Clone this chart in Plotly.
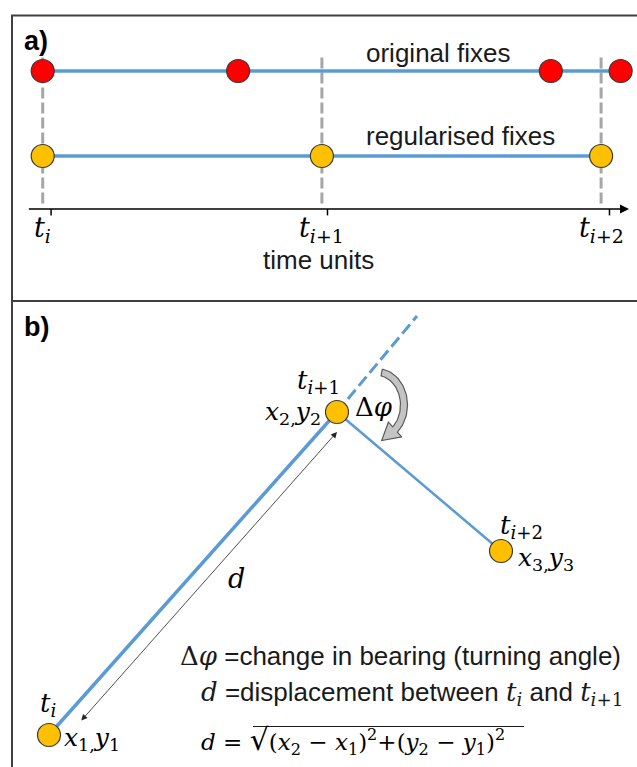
import numpy as np
import plotly.graph_objects as go

W, H = 637, 767

# ---------------- data ----------------
# panel a: fixes along the time axis (time units; t_i = 0)
original_fix_times = [0.0, 0.70, 1.82, 2.07]
regular_fix_times = [0, 1, 2]
tick_times = [0.03, 1.02, 2.03]
time_tick_labels = ["<i>t</i><sub><i>i</i></sub>",
                    "<i>t</i><sub><i>i</i>+1</sub>",
                    "<i>t</i><sub><i>i</i>+2</sub>"]
row_names = ["original fixes", "regularised fixes"]
row_levels = [1, 0]          # original row, regularised row
axis_level = -0.624

# panel b: three regularised steps (arbitrary map units)
step_x = [0.49, 3.37, 5.01]
step_y = [0.32, 3.55, 2.16]
step_coord_labels = ["<i>x</i><sub>1,</sub><i>y</i><sub>1</sub>",
                     "<i>x</i><sub>2,</sub><i>y</i><sub>2</sub>",
                     "<i>x</i><sub>3,</sub><i>y</i><sub>3</sub>"]
heading_x = [3.37, 4.17]     # extension of the previous bearing
heading_y = [3.55, 4.51]
d_arrow_x = [0.80, 3.37]
d_arrow_y = [0.45, 3.35]

BLUE = "#5B9BD5"
RED = "#FF0000"
YEL = "#FFC000"
EDGE = "#3A3A3A"
TXT = "#1a1a1a"
SANS = "Liberation Sans, Arial, sans-serif"
SERIF = "DejaVu Serif, Liberation Serif, serif"

def px(x):  # pixel -> paper x
    return x / W

def py(y):  # pixel -> paper y
    return 1 - y / H

fig = go.Figure()

# ---------- panel a ----------
fig.add_trace(go.Scatter(x=original_fix_times, y=[row_levels[0]] * len(original_fix_times),
                         mode="lines+markers", xaxis="x", yaxis="y",
                         line=dict(color=BLUE, width=3.5),
                         marker=dict(size=23, color=RED, line=dict(color=EDGE, width=1.2)),
                         showlegend=False, hoverinfo="skip"))
fig.add_trace(go.Scatter(x=regular_fix_times, y=[row_levels[1]] * len(regular_fix_times),
                         mode="lines+markers", xaxis="x", yaxis="y",
                         line=dict(color=BLUE, width=3.5),
                         marker=dict(size=23, color=YEL, line=dict(color=EDGE, width=1.2)),
                         showlegend=False, hoverinfo="skip"))

shapes = []
# outer frame + divider
shapes.append(dict(type="rect", xref="paper", yref="paper", x0=px(12), x1=px(660),
                   y0=py(790), y1=py(15.5), line=dict(color="#404040", width=2), layer="below"))
shapes.append(dict(type="line", xref="paper", yref="paper", x0=px(12), x1=1.05,
                   y0=py(301), y1=py(301), line=dict(color="#404040", width=2)))
for t in regular_fix_times:
    shapes.append(dict(type="line", xref="x", yref="y", x0=t, x1=t, y0=1.16, y1=axis_level + 0.03,
                       line=dict(color="#A6A6A6", width=3, dash="11px,4px"), layer="below"))
for t in tick_times:
    shapes.append(dict(type="line", xref="x", yref="y", x0=t, x1=t, y0=axis_level, y1=axis_level - 0.075,
                       line=dict(color="black", width=1.5)))

annotations = []
# time axis arrow
annotations.append(dict(x=2.10, y=axis_level, ax=-0.055, ay=axis_level, xref="x", yref="y",
                        axref="x", ayref="y", showarrow=True, arrowhead=2, arrowsize=1.2,
                        arrowwidth=1.5, arrowcolor="black", text=""))
for t, lab in zip(regular_fix_times, time_tick_labels):
    annotations.append(dict(x=t, y=-0.87, xref="x", yref="y", text=lab, showarrow=False,
                            font=dict(family=SERIF, size=27, color="black"),
                            xanchor="center", yanchor="middle"))
sans = lambda s, c=TXT: dict(family=SANS, size=s, color=c)
serif = lambda s: dict(family=SERIF, size=s, color="black")
annotations += [
    dict(x=px(319), y=py(260), text="time units", font=sans(26)),
    dict(x=px(364), y=py(53), text=row_names[0], xanchor="left", font=sans(26)),
    dict(x=px(364), y=py(136), text=row_names[1], xanchor="left", font=sans(26)),
    dict(x=px(22), y=py(41), text="<b>a)</b>", xanchor="left", font=sans(27, "black")),
]

# ---------- panel b ----------
fig.add_trace(go.Scatter(x=heading_x, y=heading_y, mode="lines", xaxis="x2", yaxis="y2",
                         line=dict(color=BLUE, width=3, dash="12px,5px"),
                         showlegend=False, hoverinfo="skip"))
fig.add_trace(go.Scatter(x=step_x[:2], y=step_y[:2], mode="lines", xaxis="x2", yaxis="y2",
                         line=dict(color=BLUE, width=3.5), showlegend=False, hoverinfo="skip"))
fig.add_trace(go.Scatter(x=step_x[1:], y=step_y[1:], mode="lines", xaxis="x2", yaxis="y2",
                         line=dict(color=BLUE, width=2.5), showlegend=False, hoverinfo="skip"))

# curved turning-angle arrow (pixel geometry converted to panel-b units)
cx, cy, rx, ry = 377, 405, 27, 33
th = np.radians(np.linspace(-80, 48, 40))
outer = [(cx + (rx + 3.5) * np.cos(a), cy + (ry + 3.5) * np.sin(a)) for a in th]
inner = [(cx + (rx - 3.5) * np.cos(a), cy + (ry - 3.5) * np.sin(a)) for a in th[::-1]]
a_end, a_tip = np.radians(48), np.radians(80)
head = [(cx + (rx + 10) * np.cos(a_end), cy + (ry + 10) * np.sin(a_end)),
        (cx + rx * np.cos(a_tip), cy + ry * np.sin(a_tip) + 3),
        (cx + (rx - 10) * np.cos(a_end), cy + (ry - 10) * np.sin(a_end))]
poly = outer + head + inner + [outer[0]]
fig.add_trace(go.Scatter(x=[p[0] / 100 for p in poly], y=[(H - p[1]) / 100 for p in poly],
                         mode="lines", fill="toself", fillcolor="#C4C4C4",
                         line=dict(color="#5a5a5a", width=1.2), xaxis="x2", yaxis="y2",
                         showlegend=False, hoverinfo="skip"))

fig.add_trace(go.Scatter(x=step_x, y=step_y, mode="markers", xaxis="x2", yaxis="y2",
                         marker=dict(size=23, color=YEL, line=dict(color=EDGE, width=1.2)),
                         showlegend=False, hoverinfo="skip"))

# displacement arrow
annotations.append(dict(x=d_arrow_x[1], y=d_arrow_y[1], ax=d_arrow_x[0], ay=d_arrow_y[0],
                        xref="x2", yref="y2", axref="x2", ayref="y2", showarrow=True,
                        arrowhead=2, startarrowhead=2, arrowside="end+start", arrowsize=1.5,
                        startarrowsize=1.5, arrowwidth=0.8, arrowcolor="#222", text=""))

SER_SPAN = "<span style='font-family:DejaVu Serif'>"
annotations += [
    dict(x=px(22), y=py(327), text="<b>b)</b>", xanchor="left", font=sans(27, "black")),
    dict(x=px(48), y=py(704), text=time_tick_labels[0], font=serif(26)),
    dict(x=px(318), y=py(381), text=time_tick_labels[1], font=serif(26)),
    dict(x=px(521), y=py(526), text=time_tick_labels[2], font=serif(26)),
    dict(x=px(62), y=py(739), text=step_coord_labels[0], xanchor="left", font=serif(25)),
    dict(x=px(323), y=py(413), text=step_coord_labels[1], xanchor="right", font=serif(25)),
    dict(x=px(516), y=py(559), text=step_coord_labels[2], xanchor="left", font=serif(25)),
    dict(x=px(353), y=py(407), text="Δ<i>φ</i>", xanchor="left", font=serif(26)),
    dict(x=px(236), y=py(578), text="<i>d</i>", font=serif(27)),
    dict(x=px(178), y=py(656), xanchor="left",
         text=SER_SPAN + "Δ<i>φ</i></span> =change in bearing (turning angle)",
         font=sans(26)),
    dict(x=px(199), y=py(693), xanchor="left",
         text=SER_SPAN + "<i>d</i></span> =displacement between "
              + SER_SPAN + "<i>t</i><sub><i>i</i></sub></span> and "
              + SER_SPAN + "<i>t</i><sub><i>i</i>+1</sub></span>",
         font=sans(26)),
    dict(x=px(199), y=py(740), xanchor="left",
         text="<i>d</i> = <span style='font-size:30px'>√</span>(<i>x</i><sub>2</sub> − <i>x</i><sub>1</sub>)<sup>2</sup>+(<i>y</i><sub>2</sub> − <i>y</i><sub>1</sub>)<sup>2</sup>",
         font=serif(23)),
]
for a in annotations:
    a.setdefault("xref", "paper")
    a.setdefault("yref", "paper")
    a.setdefault("showarrow", False)
    a.setdefault("xanchor", "center")
    a.setdefault("yanchor", "middle")
# radical vinculum
shapes.append(dict(type="line", xref="paper", yref="paper", x0=px(253), x1=px(524),
                   y0=py(726.5), y1=py(726.5), line=dict(color=TXT, width=1.2)))

ax_hidden = dict(visible=False, showgrid=False, zeroline=False, fixedrange=True)
fig.update_layout(
    width=W, height=H, autosize=False,
    margin=dict(l=0, r=0, t=0, b=0, pad=0),
    paper_bgcolor="white", plot_bgcolor="rgba(0,0,0,0)",
    xaxis=dict(domain=[0, 1], range=[-42.7 / 279.2, (W - 42.7) / 279.2], **ax_hidden),
    yaxis=dict(domain=[1 - 300 / H, 1], range=[(156 - 300) / 85, 156 / 85], **ax_hidden),
    xaxis2=dict(domain=[0, 1], range=[0, W / 100], **ax_hidden),
    yaxis2=dict(domain=[0, 1 - 300 / H], range=[0, (H - 300) / 100], **ax_hidden),
    shapes=shapes, annotations=annotations, showlegend=False,
)
fig.write_html("out.html", config={"displayModeBar": False})
